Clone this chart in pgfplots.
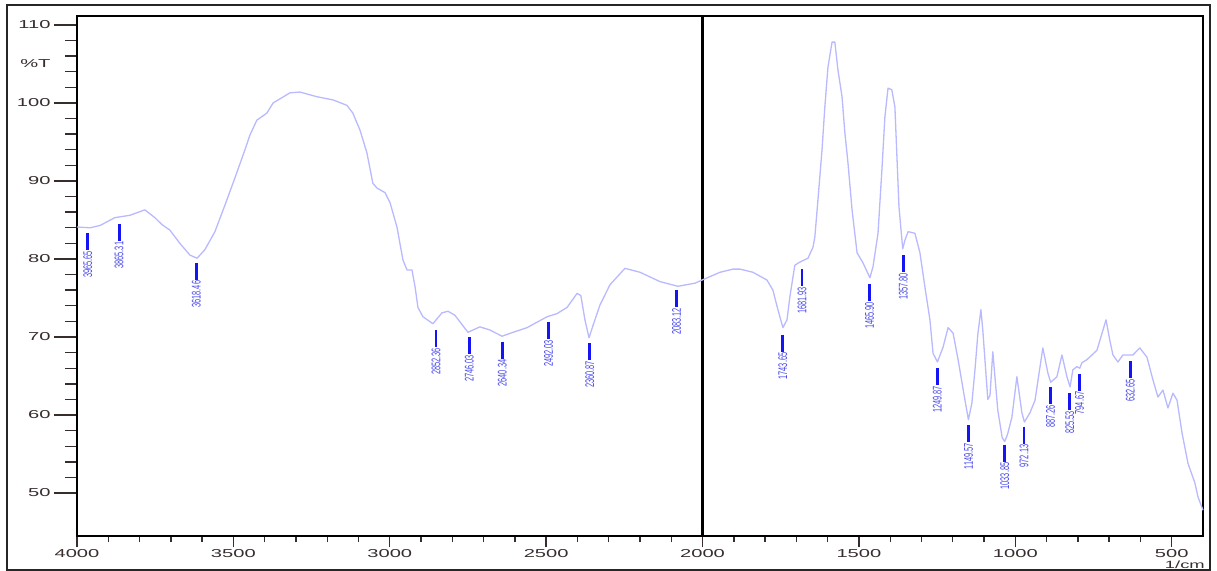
\documentclass[border=0pt]{standalone}
\usepackage{pgfplots}
\pgfplotsset{compat=1.18}
\usepackage{pgfplotstable}
\usepackage{graphicx}
\usepackage{fontspec}
\setmainfont{Liberation Sans}
\newfontfamily\tickfont{Liberation Sans}[FakeStretch=1.75]
\definecolor{curvecol}{RGB}{185,185,255}
\definecolor{barcol}{RGB}{20,20,245}
\definecolor{labcol}{RGB}{70,70,235}
\definecolor{tickcol}{RGB}{55,45,45}

\pgfplotstableread{
x y
4000 84.1
3958 84.0
3926 84.3
3879 85.3
3831 85.6
3783 86.3
3751 85.3
3728 84.4
3703 83.7
3671 82.0
3639 80.5
3616 80.1
3591 81.2
3559 83.5
3527 86.9
3495 90.4
3463 94.0
3447 95.9
3425 97.8
3393 98.7
3373 100.0
3319 101.3
3287 101.4
3233 100.8
3182 100.4
3137 99.7
3118 98.7
3095 96.5
3073 93.6
3054 89.7
3041 89.1
3015 88.5
2999 87.2
2977 84.1
2958 79.9
2945 78.6
2929 78.6
2919 76.4
2910 73.8
2894 72.6
2862 71.7
2833 73.1
2814 73.3
2792 72.8
2750 70.6
2712 71.3
2680 70.9
2641 70.1
2606 70.6
2561 71.2
2497 72.6
2465 73.0
2433 73.8
2401 75.6
2389 75.3
2376 72.2
2363 69.9
2350 71.5
2328 74.1
2296 76.7
2248 78.8
2200 78.3
2136 77.1
2079 76.5
2024 76.9
1996 77.4
1944 78.3
1903 78.7
1880 78.7
1839 78.3
1794 77.3
1775 76.0
1759 73.5
1743 71.2
1730 72.2
1721 75.1
1705 79.2
1689 79.6
1663 80.1
1647 81.5
1641 82.8
1631 87.6
1618 94.0
1609 99.5
1599 104.6
1586 107.8
1577 107.8
1567 104.2
1554 100.8
1545 96.2
1535 92.3
1522 86.3
1506 80.8
1487 79.5
1465 77.6
1455 79.0
1439 83.3
1426 91.8
1417 98.2
1407 101.9
1395 101.7
1385 99.5
1379 93.6
1372 86.7
1360 81.3
1353 82.4
1343 83.5
1321 83.3
1305 80.8
1289 76.4
1273 72.2
1263 67.9
1249 66.8
1231 68.7
1215 71.2
1199 70.5
1183 67.1
1161 61.9
1150 59.4
1139 61.5
1129 65.8
1120 70.3
1110 73.5
1104 70.9
1088 62.0
1081 62.5
1072 68.1
1056 60.6
1042 57.1
1034 56.6
1025 57.5
1011 59.7
995 64.9
979 60.3
971 59.1
953 60.3
937 61.9
921 66.2
912 68.6
896 65.4
887 64.2
867 64.9
851 67.7
835 64.9
825 63.6
816 65.8
803 66.2
794 66.0
787 66.7
771 67.1
739 68.3
710 72.2
698 69.6
688 67.7
672 66.8
656 67.7
624 67.7
602 68.6
579 67.4
560 64.5
544 62.3
528 63.2
512 60.9
496 62.8
483 61.9
467 57.7
448 53.8
426 51.3
416 49.5
400 47.8
}\spectrum

\pgfplotstableread{
x y
3965.65 83.3
3965.65 81.1
nan nan
3865.31 84.5
3865.31 82.3
nan nan
3618.46 79.5
3618.46 77.3
nan nan
2852.36 70.9
2852.36 68.7
nan nan
2746.03 70.0
2746.03 67.8
nan nan
2640.34 69.4
2640.34 67.2
nan nan
2492.03 71.9
2492.03 69.7
nan nan
2360.87 69.2
2360.87 67.0
nan nan
2083.12 76.0
2083.12 73.8
nan nan
1743.65 70.3
1743.65 68.1
nan nan
1681.93 78.7
1681.93 76.5
nan nan
1465.90 76.8
1465.90 74.6
nan nan
1357.80 80.5
1357.80 78.3
nan nan
1249.87 66.0
1249.87 63.8
nan nan
1149.57 58.7
1149.57 56.5
nan nan
1033.85 56.2
1033.85 54.0
nan nan
972.13 58.5
972.13 56.3
nan nan
887.26 63.6
887.26 61.4
nan nan
825.53 62.8
825.53 60.6
nan nan
794.67 65.3
794.67 63.1
nan nan
632.65 66.9
632.65 64.7
}\bars

\pgfplotstableread{
x y lab
3965.65 81.1 3965.65
3865.31 82.3 3865.31
3618.46 77.3 3618.46
2852.36 68.7 2852.36
2746.03 67.8 2746.03
2640.34 67.2 2640.34
2492.03 69.7 2492.03
2360.87 67.0 2360.87
2083.12 73.8 2083.12
1743.65 68.1 1743.65
1681.93 76.5 1681.93
1465.90 74.6 1465.90
1357.80 78.3 1357.80
1249.87 63.8 1249.87
1149.57 56.5 1149.57
1033.85 54.0 1033.85
972.13 56.3 972.13
887.26 61.4 887.26
825.53 60.6 825.53
794.67 63.1 794.67
632.65 64.7 632.65
}\peaklabels

\pgfplotsset{
  base/.style={
    scale only axis, width=1126bp, height=520bp,
    x dir=reverse, xmin=400, xmax=4000, ymin=44.49, ymax=111.15,
    axis line style={line width=1.6bp, black},
    tick style={line width=1.4bp, tickcol},
    tick align=outside,
    /pgf/number format/assume math mode=true,
    /pgf/number format/set thousands separator={},
    tick label style={font=\tickfont\fontsize{11.5bp}{12bp}\selectfont, text=tickcol},
  }
}

\begin{document}
\begin{tikzpicture}
\path[use as bounding box] (-77bp,-35bp) rectangle (1140bp,536bp);
% x ticks
\begin{axis}[base,
  xtick={500,1000,...,4000}, minor x tick num=4, xtick pos=left,
  ytick=\empty,
  major tick length=11bp, minor tick length=6bp,
  xticklabel style={yshift=1bp},
  xlabel={1/cm},
  xlabel style={at={(axis description cs:1,0)}, anchor=north east, inner sep=0pt,
    xshift=2bp, yshift=-24.5bp, font=\tickfont\fontsize{10.5bp}{11bp}\selectfont, text=tickcol},
]
\end{axis}
% y ticks and data
\begin{axis}[base,
  xtick=\empty,
  ytick={50,60,...,110}, minor y tick num=4, ytick pos=left,
  major tick length=23bp, minor tick length=12bp,
  extra y ticks={105}, extra y tick labels={\%T},
  extra y tick style={tick style={draw=none}},
  unbounded coords=jump,
  clip=false,
]
\addplot[black, line width=2.2bp] coordinates {(2000,44.49) (2000,111.15)};
\addplot[curvecol, line width=1.3bp, line join=round] table[x=x,y=y]{\spectrum};
\addplot[barcol, line width=2.8bp] table[x=x,y=y]{\bars};
\addplot[only marks, mark=none, point meta=explicit symbolic,
  nodes near coords={\scalebox{1}[1.7]{\pgfplotspointmeta}},
  every node near coord/.append style={rotate=90, anchor=east, inner sep=0.6bp,
    text=labcol, font=\fontsize{7.4bp}{8bp}\selectfont}]
  table[x=x,y=y,meta=lab]{\peaklabels};
\end{axis}
\draw[line width=1.4bp, black!85] (-70bp,-34bp) rectangle (1133bp,531bp);
\end{tikzpicture}
\end{document}
